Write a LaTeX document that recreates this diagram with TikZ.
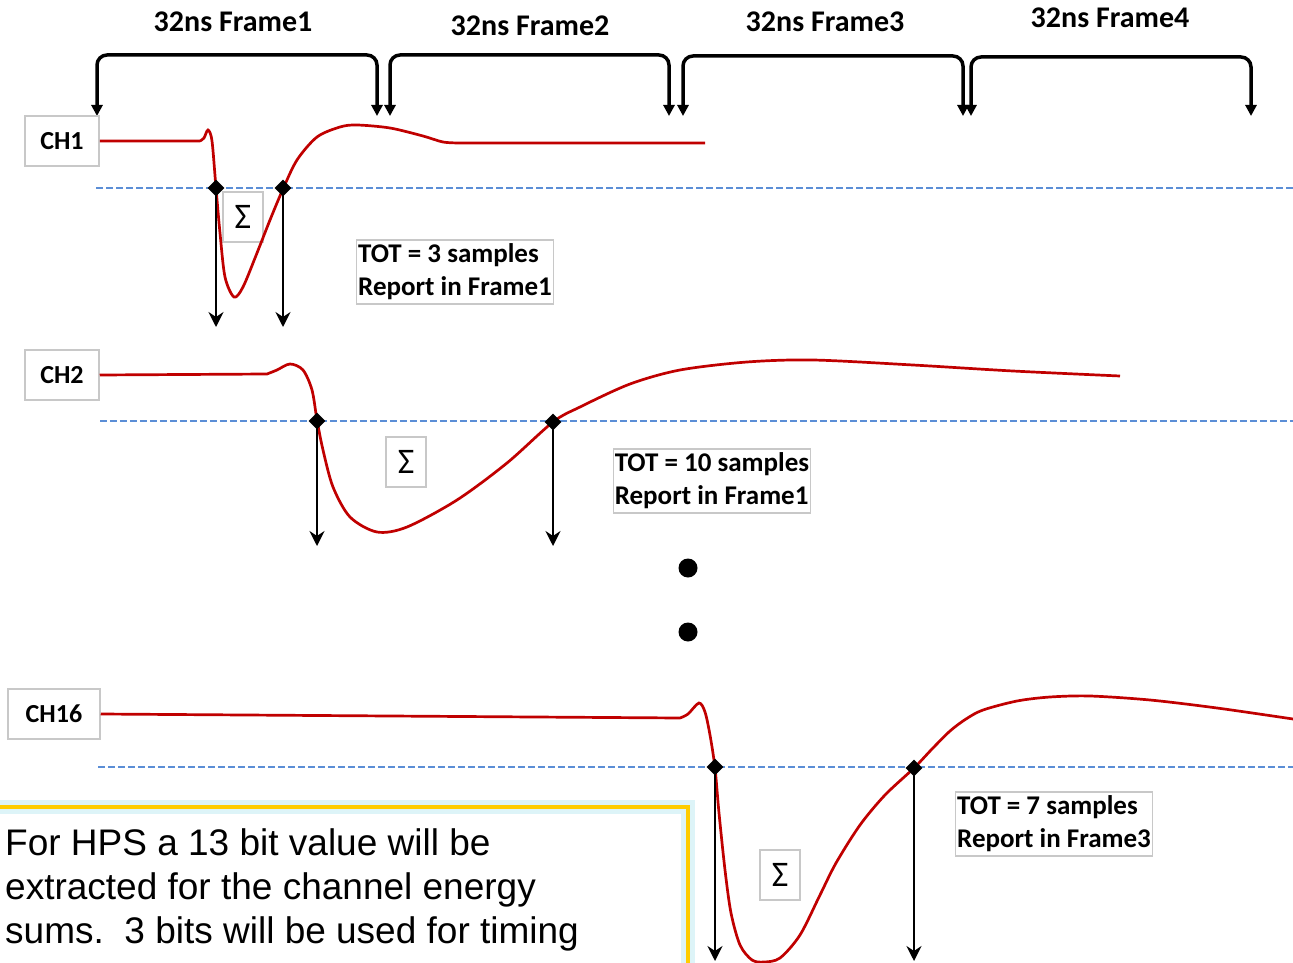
\documentclass[tikz,border=0pt]{standalone}
\usepackage{fontspec}
\setmainfont{Carlito}
\newfontfamily\notefont{Liberation Sans}
\usetikzlibrary{arrows.meta,shapes.geometric}

\definecolor{pulsered}{HTML}{C00000}
\definecolor{threshblue}{HTML}{5B8ED6}
\definecolor{boxgray}{HTML}{C8C8C8}
\definecolor{noteyellow}{HTML}{FFCC00}
\definecolor{noteglow}{HTML}{DDF4F8}

\tikzset{
    chbox/.style={draw=boxgray, line width=1.5pt, fill=white, minimum height=50pt,
        minimum width=74pt, font=\bfseries\fontsize{26}{30}\selectfont},
    totbox/.style={draw=boxgray, line width=1.5pt, fill=white, align=left,
        inner xsep=1.5pt, inner ysep=4pt, font=\bfseries\fontsize{27}{33}\selectfont},
    sumbox/.style={draw=boxgray, line width=1.5pt, fill=white, minimum width=40pt,
        minimum height=50pt, inner sep=0pt, font=\fontsize{36}{38}\selectfont},
    xpoint/.style={diamond, fill=black, inner sep=0pt, minimum size=17pt},
    bigdot/.style={circle, fill=black, inner sep=0pt, minimum size=19pt},
    pulseline/.style={pulsered, line width=2.7pt},
    thresh/.style={threshblue, line width=2.7pt, dash pattern=on 7pt off 3pt},
    tofdrop/.style={line width=2pt, -{Stealth[length=15pt,width=15pt,inset=5pt]}},
    framebrk/.style={line width=3.5pt, rounded corners=10pt,
        {Triangle[length=11pt,width=11pt]}-{Triangle[length=11pt,width=11pt]}},
    notetext/.style={align=left, inner sep=0pt, font=\notefont\fontsize{37}{44}\selectfont}
}

\begin{document}
\begin{tikzpicture}[x=1pt, y=-1pt]
    \useasboundingbox (0,0) rectangle (1293,963);
    \clip (0,0) rectangle (1293,963);

    % frame brackets along the top
    \foreach \l/\r/\t/\lx/\ly [count=\i] in {97/377/55/233/22, 390/669/55/530/26,
                                          683/963/56/825/22, 971/1251/57/1110/18} {
        \coordinate (l\i) at (\l,116);
        \coordinate (r\i) at (\r,116);
        \draw[framebrk] (l\i) -- (\l,\t) -| (r\i);
        \node[font=\bfseries\fontsize{30}{34}\selectfont] (frame\i) at (\lx,\ly) {32ns Frame\i};
    }

    % channel labels
    \node[chbox] (ch1) at (62,141) {CH1};
    \node[chbox] (ch2) at (62,375) {CH2};
    \node[chbox, minimum width=92pt] (ch16) at (54,714) {CH16};

    % thresholds
    \coordinate (thr1) at (96,188);
    \coordinate (thr2) at (100,421);
    \coordinate (thr3) at (98,767);
    \coordinate (edge) at (1293,0);
    \draw[thresh] (thr1) -- (thr1 -| edge);
    \draw[thresh] (thr2) -- (thr2 -| edge);
    \draw[thresh] (thr3) -- (thr3 -| edge);

    % sums
    \node[sumbox] (sum1) at (243,217) {Σ};
    \node[sumbox] (sum2) at (406,462) {Σ};
    \node[sumbox] (sum3) at (780,875) {Σ};

    % pulses
    \draw[pulseline] (ch1.east) -- (200,141)
        plot[smooth, tension=0.5] coordinates {(200,141) (204,138) (208,130) (212,141)
            (216,188) (220,233) (225,277) (234,297) (243,287) (257,253) (270,220)
            (283,189) (297,160) (317,137) (340,127) (357,125) (390,128) (423,136)
            (443,142) (460,143)} -- (705,143);
    \draw[pulseline] (ch2.east) -- (267,374)
        plot[smooth, tension=0.5] coordinates {(267,374) (277,370) (290,364) (303,370)
            (312,390) (317,420) (323,450) (333,487) (350,517) (377,532) (407,527)
            (457,500) (507,463) (553,422) (580,407) (630,384) (680,370) (747,362)
            (813,360) (913,365) (1013,371) (1120,376)};
    \draw[pulseline] (ch16.east) -- (680,718)
        plot[smooth, tension=0.5] coordinates {(680,718) (688,714) (699,703) (705,712)
            (710,735) (715,768) (719,813) (725,870) (731,913) (740,945) (752,960)
            (764,962) (780,958) (800,935) (820,895) (836,863) (860,825) (885,795)
            (914,768) (932,749) (950,731) (966,719) (983,710) (1017,701) (1050,697)
            (1090,696) (1150,700) (1217,708) (1293,719)};

    % crossings and time-over-threshold marks
    \node[xpoint] (c1a) at (216,188) {};
    \node[xpoint] (c1b) at (283,188) {};
    \node[xpoint] (c2a) at (317,421) {};
    \node[xpoint] (c2b) at (553,422) {};
    \node[xpoint] (c3a) at (715,767) {};
    \node[xpoint] (c3b) at (914,768) {};
    \coordinate (bot1) at (0,327);
    \coordinate (bot2) at (0,546);
    \coordinate (bot3) at (0,961);
    \draw[tofdrop] (c1a.center) -- (c1a |- bot1);
    \draw[tofdrop] (c1b.center) -- (c1b |- bot1);
    \draw[tofdrop] (c2a.center) -- (c2a |- bot2);
    \draw[tofdrop] (c2b.center) -- (c2b |- bot2);
    \draw[tofdrop] (c3a.center) -- (c3a |- bot3);
    \draw[tofdrop] (c3b.center) -- (c3b |- bot3);

    \node[totbox] (tot1) at (455,272) {TOT = 3 samples\\Report in Frame1};
    \node[totbox] (tot2) at (712,481) {TOT = 10 samples\\Report in Frame1};
    \node[totbox] (tot3) at (1054,824) {TOT = 7 samples\\Report in Frame3};

    % more channels
    \node[bigdot] (dot1) at (688,568) {};
    \node[bigdot] (dot2) at (688,632) {};

    % note box
    \fill[white] (-10,807) rectangle (688,1010);
    \draw[noteglow, line width=14pt] (-10,807) rectangle (688,1010);
    \draw[noteyellow, line width=4pt] (-10,807) rectangle (688,1010);
    \node[notetext, anchor=north west] (note) at (5,828)
        {For HPS a 13 bit value will be\\extracted for the channel energy\\sums.\ \ 3 bits will be used for timing};
\end{tikzpicture}
\end{document}
